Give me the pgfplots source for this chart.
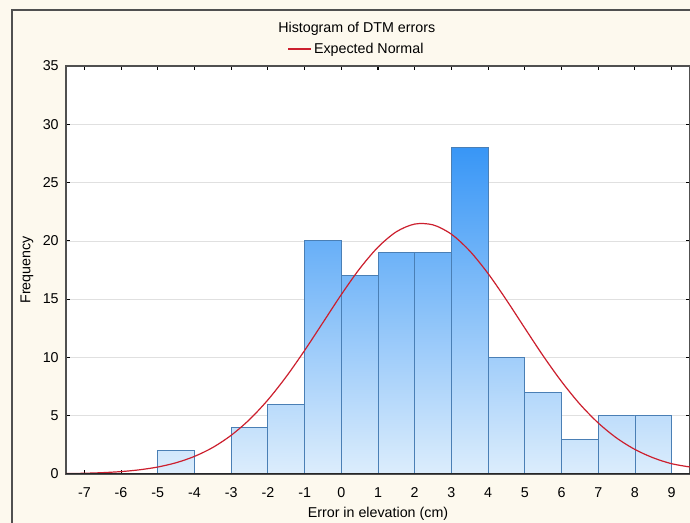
\documentclass[border=0pt]{standalone}
\usepackage{fontspec}
\setmainfont{Liberation Sans}
\usepackage{pgfplots}
\pgfplotsset{compat=1.18}

\definecolor{cream}{HTML}{FDF9EE}
\definecolor{barDark}{HTML}{3896F6}
\definecolor{barLight}{HTML}{DCEDFC}
\definecolor{barEdge}{HTML}{4A7FB5}
\definecolor{curveRed}{HTML}{CC1F2E}
\definecolor{frameGray}{HTML}{505050}

% lo, hi, count, shade (count/28*100)
\newcommand{\histbar}[4]{%
  \addplot[ybar interval, forget plot, draw=barEdge, line width=0.6pt,
    top color=barDark!#4!barLight, bottom color=barLight]
    coordinates {(#1,#3) (#2,#3)};}

\begin{document}
\begin{tikzpicture}
\useasboundingbox (0,0) rectangle (517.5pt,392.25pt);
\fill[cream] (0,0) rectangle (517.5pt,392.25pt);
\draw[frameGray, line width=1.5pt] (9pt,0) -- (9pt,384.75pt) -- (517.5pt,384.75pt);
\begin{axis}[
  at={(49.5pt,36.75pt)}, anchor=south west,
  scale only axis, width=468pt, height=306pt,
  xmin=-7.5, xmax=9.5, ymin=0, ymax=35,
  xtick={-7,...,9}, ytick={0,5,...,35},
  tick align=inside, major tick length=3pt,
  tick style={black, line width=0.8pt},
  axis line style={frameGray, line width=1.2pt},
  axis background/.style={fill=white},
  ymajorgrids, grid style={black!12, line width=0.5pt},
  font=\fontsize{10.7}{12}\selectfont,
  /pgf/number format/assume math mode=true,
  ticklabel style={font=\fontsize{10.7}{12}\selectfont},
  xticklabel style={yshift=-6.5pt},
  yticklabel style={xshift=-2pt},
  title={Histogram of DTM errors},
  title style={at={(0.466,1)}, anchor=center, yshift=21.75pt, font=\fontsize{10.7}{12}\selectfont},
  xlabel={Error in elevation (cm)},
  xlabel style={at={(axis description cs:0.5,-0.098)}, anchor=center},
  ylabel={Frequency},
  ylabel style={at={(axis description cs:-0.0625,0.5)}, anchor=center},
  legend style={at={(0.466,1)}, anchor=center, yshift=12.75pt, draw=none, fill=none,
    font=\fontsize{10.7}{12}\selectfont},
  legend cell align=left,
]
\histbar{-5}{-4}{2}{7}
\histbar{-3}{-2}{4}{14}
\histbar{-2}{-1}{6}{21}
\histbar{-1}{0}{20}{71}
\histbar{0}{1}{17}{61}
\histbar{1}{2}{19}{68}
\histbar{2}{3}{19}{68}
\histbar{3}{4}{28}{100}
\histbar{4}{5}{10}{36}
\histbar{5}{6}{7}{25}
\histbar{6}{7}{3}{11}
\histbar{7}{8}{5}{18}
\histbar{8}{9}{5}{18}
\addplot[smooth, curveRed, line width=0.9pt] coordinates {
  (-7.5,0.032) (-7,0.062) (-6.5,0.115) (-6,0.206) (-5.5,0.358) (-5,0.598)
  (-4.5,0.967) (-4,1.509) (-3.5,2.277) (-3,3.320) (-2.5,4.672) (-2,6.355)
  (-1.5,8.349) (-1,10.595) (-0.5,12.99) (0,15.39) (0.5,17.61) (1,19.46)
  (1.5,20.78) (2,21.44) (2.5,21.37) (3,20.57) (3.5,19.13) (4,17.19)
  (4.5,14.92) (5,12.51) (5.5,10.13) (6,7.93) (6.5,5.99) (7,4.376)
  (7.5,3.087) (8,2.103) (8.5,1.385) (9,0.881) (9.5,0.60)
};
\addlegendentry{Expected Normal}
% bottom axis line back over the bars
\draw[black!85, line width=1.4pt] (rel axis cs:0,0) -- (rel axis cs:1,0);
\end{axis}
\end{tikzpicture}
\end{document}
